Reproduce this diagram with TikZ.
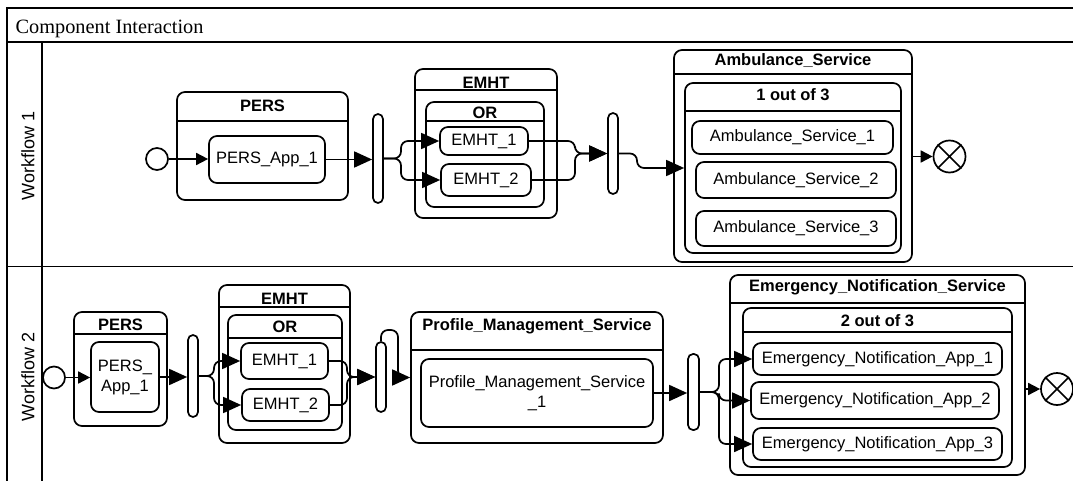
\documentclass[tikz,border=0pt]{standalone}
\usepackage{fontspec}
\setmainfont{Liberation Serif}
\setsansfont{Liberation Sans}
\usetikzlibrary{arrows.meta,fit}

\tikzset{
  frame/.style={line width=1.4pt},
  cont/.style={draw, line width=1.7pt, rounded corners=8pt, inner sep=0pt},
  ctitle/.style={font=\sffamily\bfseries\fontsize{16.5}{20}\selectfont, inner sep=0pt, anchor=base},
  item/.style={draw, line width=1.7pt, rounded corners=8pt, inner sep=0pt, align=center,
    font=\sffamily\fontsize{16.5}{20}\selectfont},
  bar/.style={draw, line width=1.7pt, rounded corners=5pt, inner sep=0pt, minimum width=10pt, fill=white},
  startnode/.style={draw, circle, line width=1.7pt, inner sep=0pt, minimum size=22pt},
  endnode/.style={draw, circle, line width=1.7pt, inner sep=0pt, minimum size=32pt},
  flow/.style={line width=1.7pt, rounded corners=7pt, -{Triangle[length=18pt,width=16pt]}},
  flows/.style={line width=1.7pt, -{Triangle[length=12pt,width=12pt]}},
  lanelabel/.style={font=\sffamily\fontsize{18}{20}\selectfont, rotate=90, inner sep=0pt},
  heading/.style={font=\fontsize{20.3}{24}\selectfont, inner sep=0pt, anchor=base west},
}

% container: name, left, top, right, bottom, header line y, title baseline y, title
\newcommand\conbox[8]{%
  \node[cont, fit={(#2,#3) (#4,#5)}] (#1) {};
  \draw[line width=1.7pt] (#2,#6) -- (#4,#6);
  \node[ctitle] (#1-title) at ({(#2+#4)/2},#7) {#8};
}

\begin{document}
\begin{tikzpicture}[x=1pt, y=-1pt]
\useasboundingbox (0,0) rectangle (1073,481);

% pool frame and lanes
\draw[frame] (7,481) -- (7,8) -- (1073,8);
\draw[frame] (7,42) -- (1073,42);
\draw[frame] (42,42) -- (42,481);
\draw[frame] (7,266.5) -- (1073,266.5);
\node[heading] (pool) at (15.5,33.8) {Component Interaction};
\node[lanelabel] (lane1) at (28,156) {Workflow 1};
\node[lanelabel] (lane2) at (28,377) {Workflow 2};

% ---------- Workflow 1 ----------
\conbox{pers1}{177}{92}{348}{200}{121}{111.7}{PERS}
\conbox{emht1}{415}{69}{557}{218}{90}{88.3}{EMHT}
\conbox{or1}{426}{102}{544}{207}{121}{119}{OR}
\conbox{amb}{674}{50}{912}{262}{74}{66}{Ambulance\_Service}
\conbox{one3}{685}{83}{901}{253}{111}{100.7}{1 out of 3}

\node[startnode] (s1) at (157,159) {};
\node[item, minimum width=116pt, minimum height=47pt] (pa1) at (267,159.5) {PERS\_App\_1};
\node[bar, minimum height=89pt] (b11) at (378,158.5) {};
\node[item, minimum width=88pt, minimum height=28pt] (e11) at (484,141) {EMHT\_1};
\node[item, minimum width=90pt, minimum height=32pt] (e12) at (486,180) {EMHT\_2};
\node[bar, minimum height=81pt] (b12) at (613,153.5) {};
\node[item, minimum width=201pt, minimum height=33pt] (as1) at (792.5,137.5) {Ambulance\_Service\_1};
\node[item, minimum width=200pt, minimum height=36pt] (as2) at (796,180) {Ambulance\_Service\_2};
\node[item, minimum width=200pt, minimum height=35pt] (as3) at (796,228.5) {Ambulance\_Service\_3};
\node[endnode] (t1) at (949.5,156.5) {};
\draw[line width=1.7pt] (t1.north west) -- (t1.south east) (t1.north east) -- (t1.south west);

\draw[flows] (s1.east) -- (s1.east -| pa1.west);
\draw[flow] (pa1.east) -- (pa1.east -| b11.west);
\draw[flow] (b11.east) -- (401,158.5) |- (e11.west);
\draw[flow] (b11.east) -- (401,158.5) |- (e12.west);
\draw[flow] (e11.east) -- (575,141) |- (b12.west);
\draw[flow] (e12.east) -- (575,180) |- (b12.west);
\draw[flow] (b12.east) -- (637,153.5) |- (one3.west);
\draw[flows] (amb.east |- t1.west) -- (t1.west);

% ---------- Workflow 2 ----------
\conbox{pers2}{74}{312}{167}{426}{334}{330.7}{PERS}
\conbox{emht2}{219}{285}{350}{443}{307}{304}{EMHT}
\conbox{or2}{228}{315}{342}{430}{338}{332.3}{OR}
\conbox{pms}{411}{312}{663}{443}{350}{330}{Profile\_Management\_Service}
\conbox{ens}{730}{275}{1025}{475}{303}{291.7}{Emergency\_Notification\_Service}
\conbox{two3}{743}{308}{1012}{467}{332}{326.7}{2 out of 3}

\node[startnode] (s2) at (54,377.5) {};
\node[item, minimum width=68pt, minimum height=70pt] (pa2) at (125,377) {PERS\_\\App\_1};
\node[bar, minimum height=82pt] (b21) at (193,376) {};
\node[item, minimum width=87pt, minimum height=36pt] (e21) at (284.5,361) {EMHT\_1};
\node[item, minimum width=87pt, minimum height=32pt] (e22) at (285.5,405) {EMHT\_2};
\node[bar, minimum height=70pt] (b22) at (381,377) {};
\node[item, minimum width=232pt, minimum height=68pt] (pm1) at (537,393) {Profile\_Management\_Service\\\_1};
\node[bar, minimum width=11pt, minimum height=76pt] (b23) at (693.5,392) {};
\node[item, minimum width=249pt, minimum height=32pt] (en1) at (877.5,359) {Emergency\_Notification\_App\_1};
\node[item, minimum width=248pt, minimum height=37pt] (en2) at (875,400.5) {Emergency\_Notification\_App\_2};
\node[item, minimum width=249pt, minimum height=32pt] (en3) at (877.5,444) {Emergency\_Notification\_App\_3};
\node[endnode] (t2) at (1057,389) {};
\draw[line width=1.7pt] (t2.north west) -- (t2.south east) (t2.north east) -- (t2.south west);

\draw[flows] (s2.east) -- (s2.east -| pa2.west);
\draw[flow] (pa2.east) -- (pa2.east -| b21.west);
\draw[flow] (b21.east) -- (214,376) |- (e21.west);
\draw[flow] (b21.east) -- (214,376) |- (e22.west);
\draw[flow] (e21.east) -- (347,361) |- (b22.west);
\draw[flow] (e22.east) -- (347,405) |- (b22.west);
\draw[flow] (b22.north) |- (398,330) |- (pms.west);
\draw[flow] (pm1.east) -- (pm1.east -| b23.west);
\draw[flow] (b23.east) -- (719,392) |- (en1.west);
\draw[flow] (b23.east) -- (719,392) |- (en2.west);
\draw[flow] (b23.east) -- (719,392) |- (en3.west);
\draw[flows] (ens.east |- t2.west) -- (t2.west);
\end{tikzpicture}
\end{document}
